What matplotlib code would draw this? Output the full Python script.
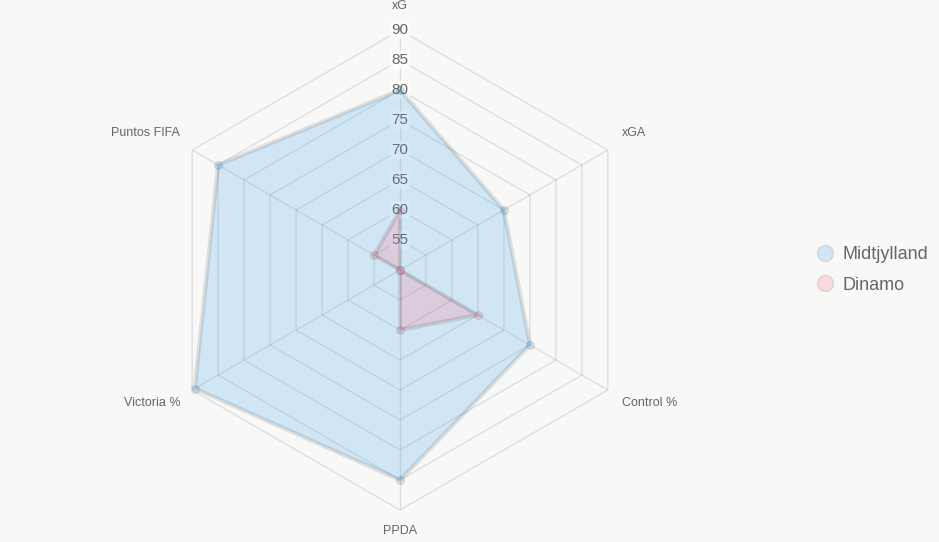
import numpy as np
import matplotlib
matplotlib.use('Agg')
from matplotlib import pyplot as plt
from matplotlib.lines import Line2D

plt.rcParams['font.family'] = ['Liberation Sans', 'DejaVu Sans']

# axes of the radar, clockwise from the top
labels = ['xG', 'xGA', 'Control %', 'PPDA', 'Victoria %', 'Puntos FIFA']
midtjylland = [80, 70, 75, 85, 89.5, 85]
dinamo = [60, 50, 65, 60, 50, 55]
ticks = [55, 60, 65, 70, 75, 80, 85, 90]
r_min, r_max = 50, 90

bg = '#f8f8f7'
text_col = '#666666'
grid_col = (0, 0, 0, 0.1)
blue = (54/255, 162/255, 235/255, 0.2)
pink = (255/255, 99/255, 132/255, 0.2)

fig = plt.figure(figsize=(9.39, 5.42), dpi=100)
fig.patch.set_facecolor(bg)

# polar area centred at (400, 270) px with 240 px radius
ax = fig.add_axes([160/939, 32/542, 480/939, 480/542], projection='polar')
ax.set_theta_offset(np.pi / 2)
ax.set_theta_direction(-1)
ax.set_rlim(r_min, r_max)
ax.patch.set_alpha(0)
ax.grid(False)
ax.spines['polar'].set_visible(False)
ax.set_xticks([])
ax.set_yticks([])

n = len(labels)
angles = [2 * np.pi * i / n for i in range(n)]
closed = angles + angles[:1]

# hexagonal grid and spokes
for r in ticks:
    ax.plot(closed, [r] * (n + 1), color=grid_col, lw=1, zorder=1)
for a in angles:
    ax.plot([a, a], [r_min, r_max], color=grid_col, lw=1, zorder=1)

# tick labels
for r in ticks:
    ax.text(0, r, str(r), ha='center', va='center', fontsize=11,
            color=text_col, zorder=2,
            bbox=dict(boxstyle='square,pad=0.12', fc=(1, 1, 1, 0.75), ec='none'))

# point labels
offsets = [(0, 24), (14, 17), (14, -13), (0, -21), (-12, -13), (-12, 17)]
aligns = ['center', 'left', 'left', 'center', 'right', 'right']
for a, lab, off, ha in zip(angles, labels, offsets, aligns):
    ax.annotate(lab, xy=(a, r_max), xytext=off, textcoords='offset pixels',
                ha=ha, va='center', fontsize=9, color=text_col,
                annotation_clip=False)

# datasets
for vals, col, name in [(midtjylland, blue, 'Midtjylland'), (dinamo, pink, 'Dinamo')]:
    v = vals + vals[:1]
    ax.fill(closed, v, color=col, zorder=3, lw=0)
    ax.plot(closed, v, color=grid_col, lw=3, zorder=4, solid_joinstyle='miter')
    ax.plot(angles, vals, ls='', marker='o', markersize=5.5, mfc=col,
            mec=grid_col, mew=1, zorder=5, clip_on=False)

handles = [Line2D([], [], ls='', marker='o', markersize=11.5, mfc=blue, mec=grid_col, mew=1),
           Line2D([], [], ls='', marker='o', markersize=11.5, mfc=pink, mec=grid_col, mew=1)]
leg = fig.legend(handles, ['Midtjylland', 'Dinamo'], loc='upper left',
                 bbox_to_anchor=(816/939, 1 - 246/542), frameon=False,
                 fontsize=13, labelspacing=0.75, handlelength=1.0,
                 handletextpad=0.45, borderpad=0, borderaxespad=0)
for t in leg.get_texts():
    t.set_color(text_col)

fig.savefig('out.png', dpi=100, facecolor=bg)
